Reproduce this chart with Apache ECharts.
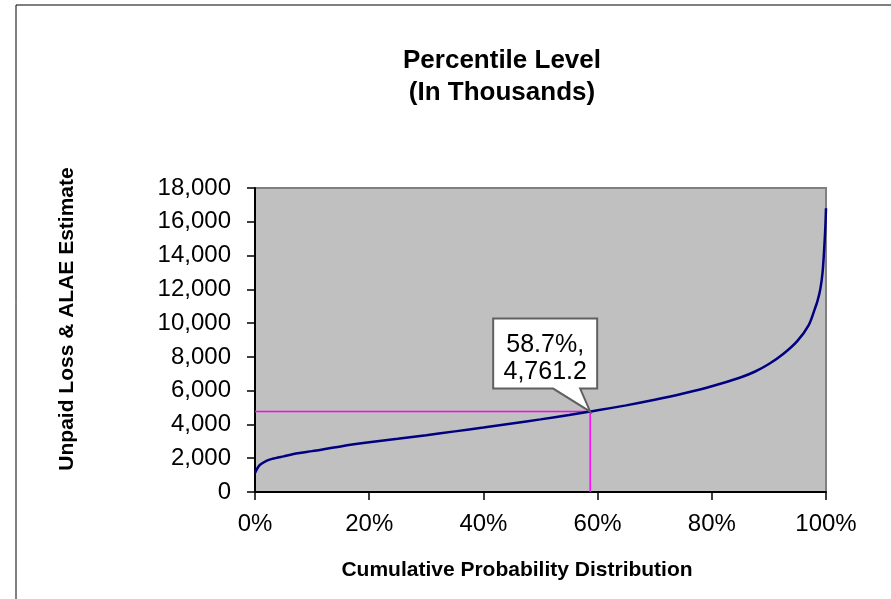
<!DOCTYPE html>
<html>
<head>
<meta charset="utf-8">
<script src="https://cdn.jsdelivr.net/npm/echarts@6/dist/echarts.min.js"></script>
<style>
html,body{margin:0;padding:0;background:#fff;}
#c{width:891px;height:599px;}
</style>
</head>
<body>
<div id="c"></div>
<script>
// Cumulative probability (%) and unpaid loss & ALAE estimate (thousands)
const pct = [0,0.5,1,2,3,5,7.5,10,15,20,25,30,35,40,45,50,55,58.7,60,65,70,75,80,85,87.5,90,92.5,95,97,98,98.5,99,99.4,99.7,99.9,100];
const vals = [1120,1450,1640,1850,1960,2110,2290,2420,2700,2940,3150,3360,3590,3820,4060,4300,4560,4761.2,4835,5130,5460,5830,6260,6780,7120,7580,8170,8950,9900,10800,11300,12000,13000,14500,15800,16800];
// Highlighted percentile
const hlPct = 58.7;
const hlVal = 4761.2;
const hlLabel = ['58.7%,', '4,761.2'];
const titleLines = ['Percentile Level', '(In Thousands)'];
const xTitle = 'Cumulative Probability Distribution';
const yTitle = 'Unpaid Loss & ALAE Estimate';

const FONT = '"Liberation Sans", Arial, sans-serif';
const chart = echarts.init(document.getElementById('c'), null, {renderer: 'canvas'});

const curve = pct.map((p, i) => [p, vals[i]]);
const hLine = [[0, hlVal], [hlPct, hlVal]];
const vLine = [[hlPct, 0], [hlPct, hlVal]];

chart.setOption({
  animation: false,
  backgroundColor: '#fff',
  grid: {left: 255, right: 65, top: 188, bottom: 107, show: true, backgroundColor: '#C0C0C0', borderColor: '#808080', borderWidth: 2},
  xAxis: {
    type: 'value', min: 0, max: 100, interval: 20,
    axisLine: {show: true, lineStyle: {color: '#000', width: 2}},
    axisTick: {show: true, length: 8, lineStyle: {color: '#000', width: 1.5}},
    axisLabel: {formatter: '{value}%', fontFamily: FONT, fontSize: 24, color: '#000', margin: 20},
    splitLine: {show: false}
  },
  yAxis: {
    type: 'value', min: 0, max: 18000, interval: 2000,
    axisLine: {show: true, lineStyle: {color: '#000', width: 2}},
    axisTick: {show: true, length: 8, lineStyle: {color: '#000', width: 1.5}},
    axisLabel: {formatter: v => v.toLocaleString('en-US'), fontFamily: FONT, fontSize: 24, color: '#000', margin: 24},
    splitLine: {show: false}
  },
  series: [
    {type: 'line', data: hLine, symbol: 'none', silent: true, lineStyle: {color: '#FF00FF', width: 1.5}, z: 2},
    {type: 'line', data: vLine, symbol: 'none', silent: true, lineStyle: {color: '#FF00FF', width: 1.5}, z: 2},
    {type: 'line', data: curve, symbol: 'none', smooth: 0.3, lineStyle: {color: '#000080', width: 2.5}, z: 3}
  ]
});

const pt = chart.convertToPixel({gridIndex: 0}, [hlPct, hlVal]);
const px = pt[0], py = pt[1];
chart.setOption({
  graphic: [
    {type: 'rect', shape: {x: 16, y: 5, width: 900, height: 620}, style: {fill: 'none', stroke: '#000', lineWidth: 1}, silent: true},
    {type: 'text', x: 502, y: 61, style: {text: titleLines[0], font: 'bold 26px ' + FONT, fill: '#000', textAlign: 'center', textVerticalAlign: 'middle'}},
    {type: 'text', x: 502, y: 93, style: {text: titleLines[1], font: 'bold 26px ' + FONT, fill: '#000', textAlign: 'center', textVerticalAlign: 'middle'}},
    {type: 'text', x: 517, y: 570, style: {text: xTitle, font: 'bold 21px ' + FONT, fill: '#000', textAlign: 'center', textVerticalAlign: 'middle'}},
    {type: 'text', x: 67, y: 319, rotation: Math.PI / 2, style: {text: yTitle, font: 'bold 21px ' + FONT, fill: '#000', textAlign: 'center', textVerticalAlign: 'middle'}},
    {type: 'polygon', z: 10, shape: {points: [
      [px - 97, py - 93], [px + 7, py - 93], [px + 7, py - 23], [px - 10, py - 23], [px, py], [px - 37, py - 23], [px - 97, py - 23]
    ]}, style: {fill: '#fff', stroke: '#606060', lineWidth: 2}},
    {type: 'text', z: 11, x: px - 45, y: py - 66, style: {text: hlLabel[0], font: '25px ' + FONT, fill: '#000', textAlign: 'center', textVerticalAlign: 'middle'}},
    {type: 'text', z: 11, x: px - 45, y: py - 39, style: {text: hlLabel[1], font: '25px ' + FONT, fill: '#000', textAlign: 'center', textVerticalAlign: 'middle'}}
  ]
});
</script>
</body>
</html>
